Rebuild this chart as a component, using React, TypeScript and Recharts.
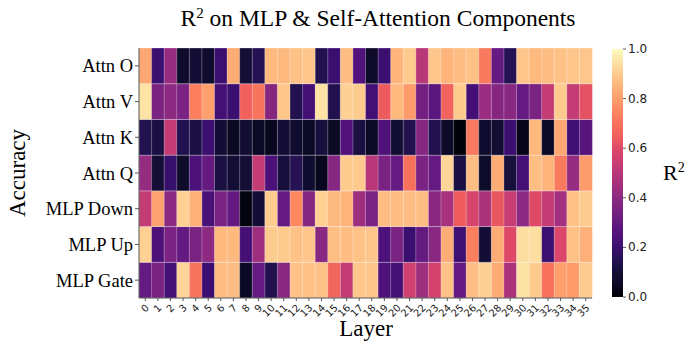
import { Bar, BarChart, Cell, XAxis, YAxis } from 'recharts'

// R^2 per layer, one array per component row
const layers = Array.from({ length: 36 }, (_, i) => String(i))

const attnO = [0.82, 0.2, 0.42, 0.07, 0.1, 0.08, 0.2, 0.83, 0.1, 0.15, 0.86, 0.86, 0.88, 0.89, 0.14, 0.2, 0.87, 0.25, 0.07, 0.2, 0.85, 0.9, 0.5, 0.89, 0.85, 0.87, 0.88, 0.72, 0.3, 0.15, 0.89, 0.86, 0.87, 0.88, 0.89, 0.89]
const attnV = [0.95, 0.35, 0.4, 0.35, 0.73, 0.8, 0.22, 0.2, 0.65, 0.71, 0.38, 0.89, 0.14, 0.22, 0.95, 0.14, 0.91, 0.9, 0.22, 0.64, 0.86, 0.79, 0.33, 0.28, 0.66, 0.9, 0.22, 0.43, 0.38, 0.39, 0.3, 0.35, 0.53, 0.9, 0.53, 0.62]
const attnK = [0.14, 0.12, 0.53, 0.14, 0.12, 0.2, 0.1, 0.05, 0.09, 0.05, 0.04, 0.1, 0.08, 0.05, 0.11, 0.05, 0.25, 0.12, 0.05, 0.24, 0.09, 0.14, 0.38, 0.14, 0.06, 0.01, 0.72, 0.08, 0.09, 0.2, 0.03, 0.86, 0.06, 0.82, 0.21, 0.27]
const attnQ = [0.42, 0.1, 0.19, 0.07, 0.24, 0.3, 0.12, 0.1, 0.1, 0.53, 0.24, 0.11, 0.15, 0.08, 0.04, 0.38, 0.9, 0.9, 0.5, 0.35, 0.3, 0.7, 0.35, 0.3, 0.92, 0.12, 0.87, 0.07, 0.83, 0.11, 0.22, 0.87, 0.85, 0.72, 0.42, 0.79]
const mlpDown = [0.53, 0.81, 0.4, 0.91, 0.84, 0.23, 0.35, 0.3, 0.02, 0.1, 0.9, 0.3, 0.75, 0.38, 0.91, 0.86, 0.85, 0.44, 0.35, 0.87, 0.87, 0.87, 0.87, 0.39, 0.46, 0.64, 0.58, 0.47, 0.63, 0.54, 0.4, 0.6, 0.53, 0.45, 0.88, 0.9]
const mlpUp = [0.91, 0.24, 0.35, 0.3, 0.35, 0.4, 0.86, 0.86, 0.22, 0.44, 0.9, 0.9, 0.88, 0.89, 0.39, 0.87, 0.87, 0.88, 0.89, 0.24, 0.35, 0.2, 0.3, 0.39, 0.83, 0.21, 0.73, 0.1, 0.83, 0.6, 0.94, 0.94, 0.2, 0.59, 0.88, 0.84]
const mlpGate = [0.3, 0.35, 0.22, 0.92, 0.71, 0.2, 0.87, 0.87, 0.05, 0.3, 0.14, 0.39, 0.88, 0.88, 0.88, 0.67, 0.53, 0.89, 0.89, 0.24, 0.22, 0.56, 0.44, 0.57, 0.88, 0.3, 0.87, 0.91, 0.83, 0.47, 0.95, 0.9, 0.7, 0.8, 0.79, 0.9]

// bottom to top
const rowNames = ['MLP Gate', 'MLP Up', 'MLP Down', 'Attn Q', 'Attn K', 'Attn V', 'Attn O']
const rows = [mlpGate, mlpUp, mlpDown, attnQ, attnK, attnV, attnO]
const colorbarTicks = [0, 0.2, 0.4, 0.6, 0.8, 1.0]

const MAGMA = [
  '#000004', '#0b0924', '#140e36', '#251255', '#3b0f70', '#51127c', '#641a80', '#7b2382',
  '#8c2981', '#a3307e', '#b73779', '#cc3f71', '#de4968', '#f1605d', '#f7705c', '#fd8961',
  '#fe9f6d', '#feb47b', '#fecb8f', '#fde3a5', '#fcfdbf',
]

function hexToRgb(h: string) {
  return [1, 3, 5].map((i) => parseInt(h.slice(i, i + 2), 16))
}

function magma(v: number) {
  const t = Math.max(0, Math.min(1, v)) * (MAGMA.length - 1)
  const i = Math.min(Math.floor(t), MAGMA.length - 2)
  const f = t - i
  const a = hexToRgb(MAGMA[i])
  const b = hexToRgb(MAGMA[i + 1])
  const c = a.map((x, k) => Math.round(x + (b[k] - x) * f))
  return `rgb(${c[0]},${c[1]},${c[2]})`
}

const data = layers.map((layer) => {
  const d: Record<string, string | number> = { layer }
  rows.forEach((_, r) => {
    d[`r${r}`] = 1
  })
  return d
})

const serif = '"Liberation Serif", "Times New Roman", serif'
const sans = '"DejaVu Sans", sans-serif'

function LayerTick({ x, y, payload }: any) {
  return (
    <text
      x={x + 2}
      y={y + 3}
      transform={`rotate(-45, ${x + 2}, ${y + 3})`}
      textAnchor="end"
      dominantBaseline="central"
      fontSize={10}
      fontFamily={sans}
      fill="#222"
    >
      {payload.value}
    </text>
  )
}

export default function App() {
  const cbX = 612
  const cbTop = 49
  const cbH = 248
  return (
    <div style={{ position: 'absolute', left: 0, top: 0, width: 693, height: 345, background: '#fff' }}>
      <BarChart
        width={693}
        height={345}
        data={data}
        margin={{ top: 48, right: 101, bottom: 17, left: 0 }}
        barCategoryGap={0}
      >
        <XAxis
          dataKey="layer"
          interval={0}
          height={30}
          tick={<LayerTick />}
          tickSize={3}
          stroke="#555"
        />
        <YAxis
          type="number"
          domain={[0, 7]}
          ticks={[0.5, 1.5, 2.5, 3.5, 4.5, 5.5, 6.5]}
          tickFormatter={(v: number) => rowNames[Math.floor(v)]}
          width={139}
          tickSize={4}
          stroke="#555"
          tick={{ fontSize: 18.5, fontFamily: serif, fill: '#000' }}
        />
        {rows.map((vals, r) => (
          <Bar key={r} dataKey={`r${r}`} stackId="a" isAnimationActive={false} stroke="#ffffff" strokeOpacity={0.45} strokeWidth={0.6}>
            {vals.map((v, i) => (
              <Cell key={i} fill={magma(v)} />
            ))}
          </Bar>
        ))}
      </BarChart>
      <svg width={693} height={345} style={{ position: 'absolute', left: 0, top: 0, pointerEvents: 'none' }}>
        <defs>
          <linearGradient id="cb" x1="0" y1="1" x2="0" y2="0">
            {MAGMA.map((c, i) => (
              <stop key={i} offset={i / (MAGMA.length - 1)} stopColor={c} />
            ))}
          </linearGradient>
        </defs>
        <text x={378} y={26} textAnchor="middle" fontFamily={serif} fontSize={23.5} fill="#000">
          R<tspan fontSize={15} dy={-8}>2</tspan>
          <tspan dy={8}> on MLP &amp; Self-Attention Components</tspan>
        </text>
        <text x={0} y={0} transform="translate(25,173) rotate(-90)" textAnchor="middle" fontFamily={serif} fontSize={23} fill="#000">
          Accuracy
        </text>
        <text x={366} y={336} textAnchor="middle" fontFamily={serif} fontSize={23} fill="#000">
          Layer
        </text>
        <rect x={cbX} y={cbTop} width={11} height={cbH} fill="url(#cb)" />
        {colorbarTicks.map((t) => {
          const y = cbTop + cbH - t * cbH
          return (
            <g key={t}>
              <line x1={cbX + 11} x2={cbX + 14} y1={y} y2={y} stroke="#333" strokeWidth={0.8} />
              <text x={cbX + 16} y={y} dominantBaseline="central" fontSize={12} fontFamily={sans} fill="#222">
                {t.toFixed(1)}
              </text>
            </g>
          )
        })}
        <text x={663} y={180} fontFamily={serif} fontSize={22} fill="#000">
          R<tspan fontSize={14} dy={-8}>2</tspan>
        </text>
      </svg>
    </div>
  )
}
